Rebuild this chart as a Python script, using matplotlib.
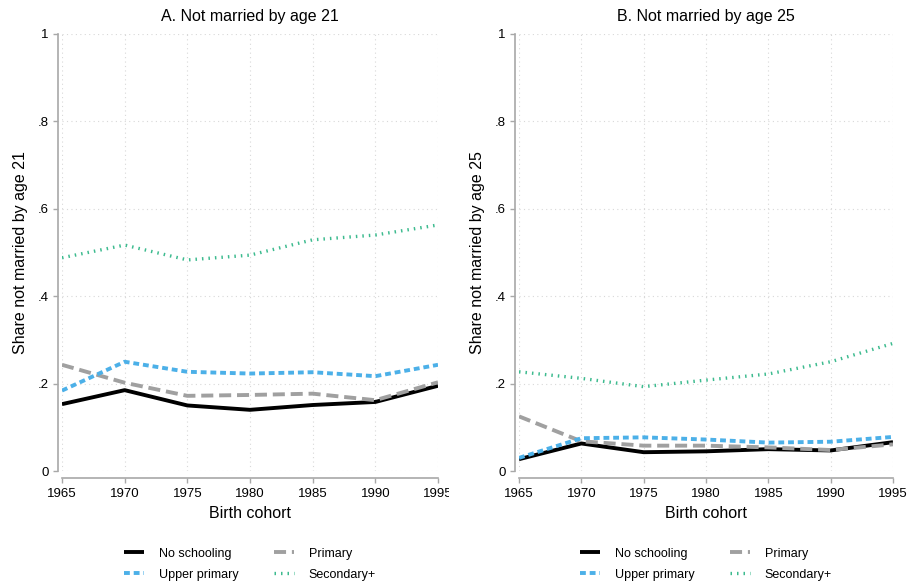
import numpy as np
import matplotlib
matplotlib.use("Agg")
import matplotlib.pyplot as plt
from matplotlib.transforms import Bbox, TransformedBbox

plt.rcParams["font.family"] = ["Liberation Sans", "DejaVu Sans"]

cohorts = [1965, 1970, 1975, 1980, 1985, 1990, 1995]
series_labels = ["No schooling", "Primary", "Upper primary", "Secondary+"]

# panel A: not married by age 21
a_none = [0.153, 0.185, 0.150, 0.140, 0.151, 0.158, 0.195]
a_primary = [0.243, 0.202, 0.172, 0.174, 0.177, 0.162, 0.203]
a_upper = [0.184, 0.250, 0.227, 0.223, 0.226, 0.217, 0.243]
a_secondary = [0.488, 0.517, 0.483, 0.494, 0.529, 0.540, 0.563]

# panel B: not married by age 25
b_none = [0.027, 0.063, 0.043, 0.045, 0.050, 0.047, 0.066]
b_primary = [0.125, 0.068, 0.058, 0.058, 0.054, 0.048, 0.061]
b_upper = [0.030, 0.075, 0.077, 0.072, 0.065, 0.067, 0.078]
b_secondary = [0.227, 0.212, 0.193, 0.208, 0.222, 0.250, 0.292]

panels = [
    ("A. Not married by age 21", "Share not married by age 21",
     [a_none, a_primary, a_upper, a_secondary]),
    ("B. Not married by age 25", "Share not married by age 25",
     [b_none, b_primary, b_upper, b_secondary]),
]

styles = [
    dict(color="black", lw=2.8, linestyle="-"),
    dict(color="#a0a0a0", lw=2.8, dashes=(3.1, 1.5)),
    dict(color="#4cb0e8", lw=2.8, dashes=(1.5, 1.0)),
    dict(color="#3dbb8f", lw=2.4, dashes=(0.45, 1.5)),
]

W, H = 907, 584
fig = plt.figure(figsize=(W / 100, H / 100), dpi=100)

# pixel boxes of the data area: left, right, top, bottom
boxes = [(62, 438, 34, 471), (519, 893, 34, 471)]
clip_right = [449, 907]

for (title, ylabel, data), (x0, x1, y0, y1), cr in zip(panels, boxes, clip_right):
    ax = fig.add_axes([x0 / W, 1 - y1 / H, (x1 - x0) / W, (y1 - y0) / H])
    lines = []
    for vals, lab, st in zip(data, series_labels, styles):
        ln, = ax.plot(cohorts, vals, label=lab, solid_capstyle="butt",
                      dash_capstyle="butt", **st)
        lines.append(ln)
    ax.set_xlim(1965, 1995)
    ax.set_ylim(0, 1)
    ax.set_xticks(cohorts)
    ax.set_yticks([0, 0.2, 0.4, 0.6, 0.8, 1])
    ax.set_yticklabels(["0", ".2", ".4", ".6", ".8", "1"])
    ax.grid(True, color="#d8d8d8", linestyle=(0, (1, 3)), linewidth=0.8)
    ax.set_axisbelow(True)
    for s in ["top", "right"]:
        ax.spines[s].set_visible(False)
    ax.spines["left"].set_position(("outward", 3))
    ax.spines["bottom"].set_position(("outward", 5))
    for s in ["left", "bottom"]:
        ax.spines[s].set_color("#a8a8a8")
        ax.spines[s].set_linewidth(1.2)
    ax.tick_params(colors="#a8a8a8", labelcolor="black", labelsize=9.5,
                   length=3.6, width=1.0)
    ax.tick_params(axis="x", pad=3.6)
    ax.tick_params(axis="y", pad=3)
    ax.set_title(title, fontsize=11.5, pad=9)
    ax.set_xlabel("Birth cohort", fontsize=11.5, labelpad=4)
    ax.set_ylabel(ylabel, fontsize=11.5, labelpad=7)
    clipbox = TransformedBbox(Bbox.from_extents(0, 0, cr / W, 1), fig.transFigure)
    for t in ax.get_xticklabels():
        t.set_clip_box(clipbox)
        t.set_clip_on(True)
    # legend fills row by row: No schooling, Primary / Upper primary, Secondary+
    order = [0, 2, 1, 3]
    ax.legend([lines[i] for i in order], [series_labels[i] for i in order],
              loc="upper center", bbox_to_anchor=(0.5, -0.15), ncol=2,
              frameon=False, fontsize=9, handlelength=1.6,
              columnspacing=2.8, labelspacing=0.7, handletextpad=1.2)

fig.savefig("out.png", dpi=100)
